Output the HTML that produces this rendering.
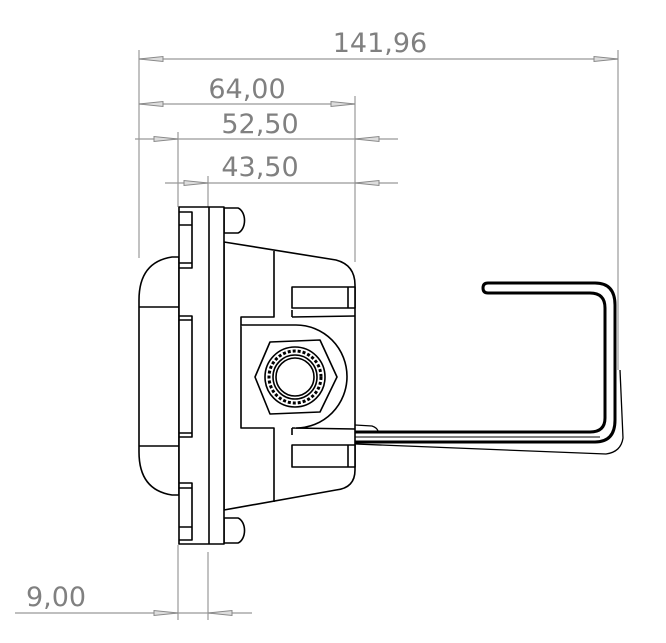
<!DOCTYPE html>
<html><head><meta charset="utf-8"><style>
html,body{margin:0;padding:0;background:#fff;}
svg{display:block;}
text{font-family:"DejaVu Sans","Liberation Sans",sans-serif;fill:#808080;font-size:27px;}
</style></head><body>
<svg width="666" height="643" viewBox="0 0 666 643" xmlns="http://www.w3.org/2000/svg">
<g stroke="#999" stroke-width="1.2" fill="none">
  <line x1="139" y1="50" x2="139" y2="258"/>
  <line x1="618" y1="50" x2="618" y2="370"/>
  <line x1="355" y1="96" x2="355" y2="262"/>
  <line x1="178" y1="132" x2="178" y2="207"/>
  <line x1="208" y1="176" x2="208" y2="207"/>
  <line x1="178" y1="545" x2="178" y2="620"/>
  <line x1="208" y1="552" x2="208" y2="620"/>
  <line x1="139" y1="59" x2="618" y2="59"/>
  <line x1="139" y1="104" x2="355" y2="104"/>
  <line x1="135" y1="139" x2="398" y2="139"/>
  <line x1="165" y1="183" x2="398" y2="183"/>
  <line x1="15" y1="613" x2="252" y2="613"/>
</g>
<g fill="#ddd" stroke="#888" stroke-width="1">
  <polygon points="139,59 163,56.5 163,61.5"/>
  <polygon points="618,59 594,56.5 594,61.5"/>
  <polygon points="139,104 163,101.5 163,106.5"/>
  <polygon points="355,104 331,101.5 331,106.5"/>
  <polygon points="178,139 154,136.5 154,141.5"/>
  <polygon points="355,139 379,136.5 379,141.5"/>
  <polygon points="208,183 184,180.5 184,185.5"/>
  <polygon points="355,183 379,180.5 379,185.5"/>
  <polygon points="178,613 154,610.5 154,615.5"/>
  <polygon points="208,613 232,610.5 232,615.5"/>
</g>
<text x="380" y="52" text-anchor="middle">141,96</text>
<text x="247" y="98" text-anchor="middle">64,00</text>
<text x="260" y="133" text-anchor="middle">52,50</text>
<text x="260" y="176" text-anchor="middle">43,50</text>
<text x="56" y="606" text-anchor="middle">9,00</text>

<g stroke="#000" stroke-width="1.6" fill="#fff" stroke-linejoin="round">
  <path d="M179,257 L172,257 Q139,262 139,300 L139,452 Q139,490 172,495 L179,495 Z"/>
  <line x1="139" y1="307" x2="179" y2="307"/>
  <line x1="139" y1="446" x2="179" y2="446"/>
  <path d="M224,208 L238,208 A9,13 0 0 1 238,233 L224,233 Z"/>
  <path d="M224,281 L238,281 A9,10.5 0 0 1 238,302 L224,302 Z"/>
  <path d="M224,449 L238,449 A9,10.5 0 0 1 238,470 L224,470 Z"/>
  <path d="M224,518 L238,518 A9,13 0 0 1 238,543 L224,543 Z"/>
  <path d="M224,242 L336,260 Q355,265 355,285 L355,470 Q355,488 336,490 L224,510 Z"/>
  <path d="M274,251 L274,317 L241,317 L241,428 L274,428 L274,502" fill="none"/>
  <rect x="292" y="287" width="63" height="21"/>
  <line x1="348" y1="287" x2="348" y2="308"/>
  <rect x="292" y="445" width="63" height="22"/>
  <line x1="348" y1="445" x2="348" y2="467"/>
  <path d="M292,317 L355,316" fill="none"/>
  <path d="M292,428 L355,429" fill="none"/>
  <path d="M241,325 L296,325 A51,51.5 0 0 1 296,428" />
  <line x1="292" y1="428" x2="292" y2="435"/>
  <line x1="292" y1="310" x2="292" y2="317"/>
  <path d="M255,377 L270,342 L320,340 L337,377 L320,412 L270,414 Z"/>
  <circle cx="295" cy="377" r="30"/>
  <circle cx="295" cy="377" r="26" stroke-dasharray="3,2" stroke-width="3"/>
  <circle cx="295" cy="377" r="22"/>
  <circle cx="295" cy="377" r="19"/>
  <rect x="179" y="207" width="45" height="337"/>
  <line x1="209" y1="207" x2="209" y2="544"/>
  <path d="M179,212 L192,212 L192,268 L179,268 M179,225 L192,225 M179,263 L192,263 M179,316 L192,316 L192,437 L179,437 M179,320 L192,320 M179,433 L192,433 M179,483 L192,483 L192,540 L179,540 M179,488 L192,488 M179,527 L192,527" fill="none"/>
</g>
<g fill="none" stroke="#000" stroke-linejoin="round">
  <path d="M355,442 L595,442 Q615,442 615,420 L615,305 Q615,283 595,283 L488,283 Q483,283 483,288 Q483,293 488,293 L590,293 Q605,293 605,308 L605,418 Q605,432 590,432 L355,432" stroke-width="3"/>
  <path d="M355,444 L606,454 Q621,452 623,438 L620,370" stroke-width="1.3"/>
  <line x1="355" y1="437" x2="600" y2="437" stroke-width="1"/>
  <path d="M355,425 L372,426 Q378,428 378,432" stroke-width="1.3"/>
</g>
</svg>
</body></html>
